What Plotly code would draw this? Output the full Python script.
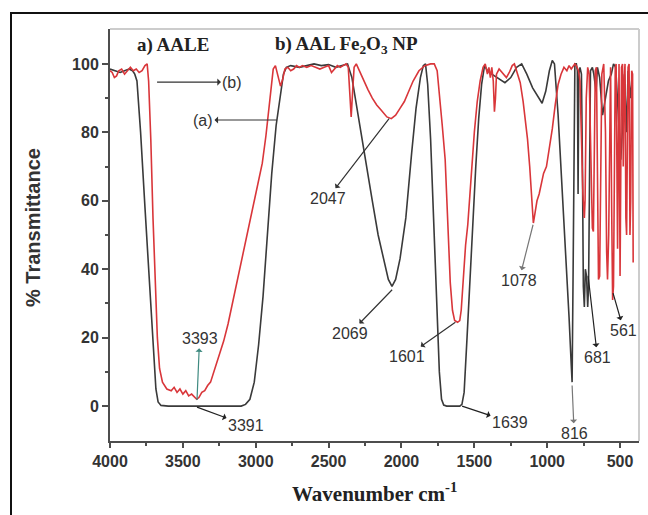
import plotly.graph_objects as go

# ---------------- data ----------------
aale_wn = [4000, 3960, 3930, 3900, 3870, 3845, 3830, 3815, 3790, 3760, 3730, 3700, 3685, 3670, 3650,
           3600, 3400, 3200, 3100, 3070, 3040, 3010, 2980, 2950, 2920, 2890, 2860, 2830, 2810, 2790,
           2760, 2700, 2650, 2600, 2550, 2500, 2450, 2400, 2370, 2340, 2310, 2280, 2250, 2200, 2160,
           2120, 2090, 2065, 2040, 2010, 1970, 1930, 1900, 1870, 1850, 1835, 1820, 1800, 1780, 1760,
           1740, 1725, 1710, 1690, 1600, 1585, 1570, 1550, 1530, 1510, 1490, 1470, 1450, 1430, 1410,
           1380, 1330, 1290, 1250, 1210, 1175, 1140, 1100, 1060, 1035, 1010, 985, 965, 950, 925,
           900, 875, 850, 835, 829, 822, 815, 810, 800, 793, 788, 783, 775, 765, 758,
           752, 745, 738, 730, 722, 716, 710, 703, 690, 680, 665, 655, 640, 620, 600,
           580, 560, 545, 530, 510, 495, 485, 470, 455, 445, 430, 418]
aale_t = [98.5, 98, 97.5, 98, 98.5, 98, 97, 95, 80, 58, 36, 15, 5, 1.2, 0.2,
          0, 0, 0, 0, 0.5, 2, 7, 18, 32, 50, 68, 82, 92, 97, 99,
          99.5, 99, 99.5, 100, 99.5, 99.8, 99, 99.5, 100, 96, 88, 80, 72, 60, 50,
          42, 37, 35, 37, 43, 55, 74, 87, 96, 99.5, 100, 94, 78, 55, 30,
          10, 2, 0.3, 0, 0, 0.5, 4, 20, 38, 55, 70, 84, 94, 99.5, 98,
          97, 95.5, 94.5, 96, 99, 100, 97, 93, 90, 88.5, 92, 98, 101, 100, 85,
          66, 46, 26, 12, 7, 40, 85, 100, 100, 98, 62, 97, 99, 97, 70,
          35, 29, 40, 38, 29, 35, 70, 98, 99, 97, 92, 99, 96, 85, 90,
          95, 97, 100, 99, 85, 72, 80, 97, 80, 98, 90, 96]

np_wn = [4000, 3985, 3970, 3955, 3940, 3920, 3900, 3880, 3860, 3840, 3820, 3800, 3780, 3760, 3745,
         3735, 3720, 3705, 3690, 3675, 3660, 3640, 3610, 3580, 3560, 3540, 3520, 3500, 3480, 3460,
         3440, 3420, 3405, 3390, 3370, 3350, 3330, 3310, 3280, 3250, 3220, 3190, 3160, 3130, 3100,
         3070, 3040, 3010, 2980, 2955, 2930, 2910, 2895, 2880, 2865, 2850, 2830, 2815, 2800, 2780,
         2760, 2740, 2720, 2700, 2680, 2650, 2620, 2590, 2560, 2530, 2500, 2480, 2460, 2440, 2420,
         2400, 2380, 2365, 2355, 2345, 2335, 2325, 2310, 2290, 2260, 2230, 2200, 2170, 2140, 2100,
         2070, 2040, 2010, 1980, 1950, 1920, 1880, 1840, 1800, 1775, 1755, 1740, 1720, 1700, 1690,
         1680, 1665, 1650, 1635, 1615, 1600, 1590, 1575, 1560, 1545, 1530, 1515, 1500, 1480, 1460,
         1440, 1425, 1410, 1400, 1390, 1380, 1370, 1362, 1355, 1348, 1330, 1300, 1280, 1260, 1240,
         1225, 1205, 1185, 1165, 1150, 1135, 1120, 1110, 1100, 1095, 1085, 1070, 1055, 1040, 1025,
         1005, 985, 965, 945, 925, 905, 885, 865, 850, 835, 820, 810, 800, 785, 775,
         765, 755, 745, 740, 732, 722, 712, 700, 690, 683, 676, 670, 662, 655, 648,
         640, 633, 625, 612, 600, 592, 586, 578, 570, 565, 558, 551, 545, 539, 533,
         527, 522, 517, 512, 507, 500, 495, 490, 483, 478, 472, 466, 460, 455, 450,
         445, 438, 432, 427, 420, 414, 410]
np_t = [98, 97.5, 96, 96.5, 98, 98.5, 97, 98, 99, 98, 98.5, 97.5, 98, 99.5, 100,
        95, 78, 55, 35, 20, 11, 7, 5, 4.5, 5.5, 4, 5, 3.5, 4.5, 3,
        3.5, 2.5, 2, 2.5, 4, 4.5, 6, 7, 11, 15, 19, 24, 30, 36, 41,
        47, 54, 60, 65, 71, 79, 87, 94, 98.5, 99.5, 97, 93.5, 95.5, 98.5, 99,
        98, 98.5, 99.5, 99, 99.5, 99, 99.5, 99, 98.5, 99, 99.5, 97.5, 98.5, 99.5, 99,
        99.5, 100, 99, 92, 84.5, 92, 99, 100, 98, 95, 92.5, 90, 88, 86.5, 84.5,
        84, 85, 87, 89, 92, 95, 98, 99.5, 100, 100, 98, 92, 82, 72, 60,
        48, 36, 28, 25, 24.5, 25, 28, 38, 47, 53, 63, 71, 80, 89, 95,
        99, 100, 97, 99, 96, 99, 95, 86, 90, 97, 98.5, 97, 96, 97.5, 99.5,
        100, 97.5, 94.5, 89, 84, 78, 70, 62, 55, 53.5, 56, 60, 62, 65, 68,
        70, 75, 81, 88, 94, 97, 99, 98, 99.5, 98.5, 99.5, 100, 99.5, 98, 95,
        80, 62, 55, 60, 90, 99, 97, 70, 52, 51, 75, 98, 99, 60, 37,
        38, 70, 97, 100, 80, 45, 37, 50, 92, 99, 60, 31, 35, 65, 99,
        100, 55, 46, 75, 100, 38, 60, 99, 100, 70, 95, 100, 55, 50, 75,
        99, 100, 50, 60, 98, 97, 42]

x_tick_vals = [4000, 3500, 3000, 2500, 2000, 1500, 1000, 500]
y_tick_vals = [0, 20, 40, 60, 80, 100]

# pointer labels: text, label centre, point on the curve (wavenumber, %T), arrow colour
peak_notes = [
    ("(b)", (3160, 94.7), (3677, 94.7), "#333333"),
    ("(a)", (3362, 83.6), (2856, 83.6), "#333333"),
    ("3393", (3385, 19.8), (3403, 1.8), "#3f8a80"),
    ("3391", (3067, -5.6), (3403, -0.3), "#222222"),
    ("2047", (2504, 60.8), (2085, 84.0), "#333333"),
    ("2069", (2353, 21.3), (2064, 34.0), "#333333"),
    ("1601", (1962, 14.6), (1630, 24.5), "#333333"),
    ("1639", (1255, -4.7), (1584, 0.0), "#222222"),
    ("1078", (1193, 36.8), (1097, 53.0), "#777777"),
    ("816", (815, -7.9), (829, 6.0), "#777777"),
    ("681", (655, 14.3), (719, 38.0), "#222222"),
    ("561", (475, 22.2), (548, 33.0), "#222222"),
]

# ---------------- figure ----------------
fig = go.Figure()
fig.add_trace(go.Scatter(x=aale_wn, y=aale_t, mode="lines",
                         line=dict(color="#3a3a3a", width=1.6), name="a) AALE"))
fig.add_trace(go.Scatter(x=np_wn, y=np_t, mode="lines",
                         line=dict(color="#d9363a", width=1.6), name="b) AAL Fe2O3 NP"))

L, R, T, B = 110, 639, 29, 441
W, H = 648, 515


def px(xp):
    return (xp - L) / (R - L)


def py(yp):
    return (B - yp) / (B - T)


annos = []
num_font = dict(family="Arial, Liberation Sans, sans-serif", size=16, color="#333333")
for text, lab, pt, col in peak_notes:
    annos.append(dict(x=pt[0], y=pt[1], ax=lab[0], ay=lab[1], xref="x", yref="y",
                      axref="x", ayref="y", text=text, showarrow=True, arrowhead=2,
                      arrowside="start", arrowsize=1, arrowwidth=1.2, arrowcolor=col,
                      startstandoff=1, standoff=0, font=num_font,
                      xanchor="center", yanchor="middle", borderpad=0))

title_font = dict(family="Times New Roman, Liberation Serif, serif", size=19,
                  color="#222222", weight="bold")
annos.append(dict(x=px(173), y=py(45), xref="paper", yref="paper", text="a) AALE",
                  showarrow=False, font=title_font, xanchor="center", yanchor="middle"))
annos.append(dict(x=px(346), y=py(45), xref="paper", yref="paper",
                  text="b) AAL Fe<sub>2</sub>O<sub>3</sub> NP", showarrow=False, font=title_font,
                  xanchor="center", yanchor="middle"))

# axis titles
annos.append(dict(x=px(33), y=py(228), xref="paper", yref="paper", text="% Transmittance",
                  textangle=-90, showarrow=False, xanchor="center", yanchor="middle",
                  font=dict(family="Arial, Liberation Sans, sans-serif", size=20,
                            color="#333333", weight="bold")))
annos.append(dict(x=px(374), y=py(492), xref="paper", yref="paper",
                  text="Wavenumber cm<sup>-1</sup>", showarrow=False,
                  xanchor="center", yanchor="middle",
                  font=dict(family="Times New Roman, Liberation Serif, serif", size=21,
                            color="#222222", weight="bold")))

shapes = [
    # light gray plot frame (top and right)
    dict(type="line", xref="paper", yref="paper", x0=0, x1=1, y0=1, y1=1,
         line=dict(color="#cccccc", width=2)),
    dict(type="line", xref="paper", yref="paper", x0=1, x1=1, y0=0, y1=1,
         line=dict(color="#cccccc", width=2)),
    # outer black frame
    dict(type="rect", xref="paper", yref="paper", x0=px(11), x1=px(700), y0=py(560), y1=py(13),
         line=dict(color="#111111", width=2), fillcolor="rgba(0,0,0,0)", layer="above"),
]

axis_font = dict(family="Arial, Liberation Sans, sans-serif", size=16, color="#333333",
                 weight="bold")

fig.update_layout(
    width=W, height=H,
    margin=dict(l=L, r=W - R, t=T, b=H - B),
    paper_bgcolor="white", plot_bgcolor="white",
    showlegend=False,
    annotations=annos,
    shapes=shapes,
    xaxis=dict(range=[4000, 370], tickvals=x_tick_vals, ticktext=[str(v) for v in x_tick_vals],
               showgrid=False, zeroline=False, showline=True, linecolor="#4d4d4d", linewidth=2,
               ticks="outside", ticklen=5, tickwidth=1.5, tickcolor="#4d4d4d",
               tickfont=axis_font,
               minor=dict(tickvals=[3750, 3250, 2750, 2250, 1750, 1250, 750], ticks="outside",
                          ticklen=3, tickwidth=1.5, tickcolor="#4d4d4d")),
    yaxis=dict(range=[-10.2, 110.2], tickvals=y_tick_vals, showgrid=False, zeroline=False,
               showline=True, linecolor="#4d4d4d", linewidth=2,
               ticks="outside", ticklen=6, tickwidth=1.5, tickcolor="#4d4d4d",
               tickfont=axis_font,
               minor=dict(tickvals=[10, 30, 50, 70, 90], ticks="outside", ticklen=3,
                          tickwidth=1.5, tickcolor="#4d4d4d")),
)

fig.write_html(
    "out.html",
    config={"displayModeBar": False},
    post_script="document.body.style.margin='0';document.body.style.padding='0';"
                "document.body.style.overflow='hidden';"
                "document.documentElement.style.overflow='hidden';",
)
